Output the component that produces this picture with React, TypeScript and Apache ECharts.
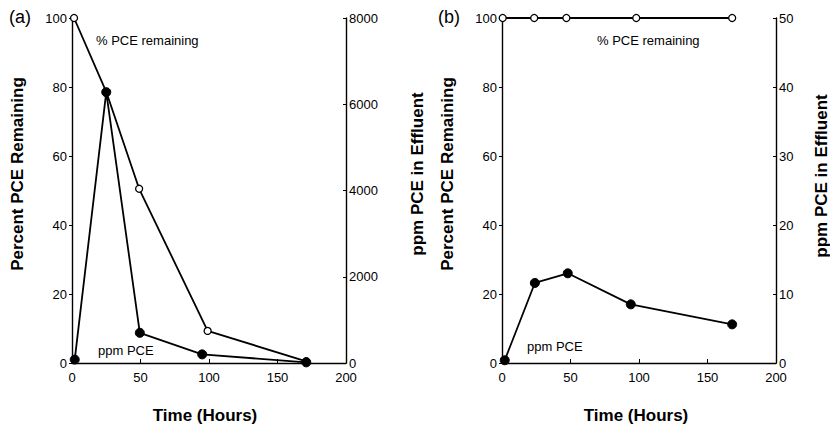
import React, { useEffect, useRef } from "react";
import * as echarts from "echarts";

// Panel (a)
const aPctTime = [1.5, 25, 49, 99, 171];
const aPct = [100, 78.6, 50.5, 9.3, 0.5];
const aPpmTime = [2, 25, 49.5, 95, 171];
const aPpm = [80, 6280, 700, 200, 15];
// Panel (b)
const bPctTime = [0.5, 23.5, 47, 98, 168];
const bPct = [100, 100, 100, 100, 100];
const bPpmTime = [2, 24, 48, 94, 168];
const bPpm = [0.4, 11.6, 13.0, 8.5, 5.6];

const FONT = "Liberation Sans, Arial, Helvetica, sans-serif";

const pairs = (xs: number[], ys: number[]) => xs.map((x, i) => [x, ys[i]]);

export default function App() {
  const ref = useRef<HTMLDivElement>(null);
  useEffect(() => {
    if (!ref.current) return;
    document.body.style.margin = "0";
    const chart = echarts.init(ref.current, undefined, { renderer: "svg" });
    const axisLine = { show: true, lineStyle: { color: "#000", width: 1.4 } };
    const labelStyle = { color: "#000", fontSize: 13, fontFamily: FONT };
    const xAxis = (gi: number) => ({
      type: "value",
      gridIndex: gi,
      min: 0,
      max: 200,
      interval: 50,
      axisLine,
      axisTick: { show: true, inside: true, length: 4, lineStyle: { color: "#000" } },
      axisLabel: { ...labelStyle, margin: 8 },
      splitLine: { show: false },
    });
    const yAxis = (gi: number, pos: "left" | "right", max: number, interval: number) => ({
      type: "value",
      gridIndex: gi,
      position: pos,
      min: 0,
      max,
      interval,
      axisLine,
      axisTick: { show: true, inside: pos === "right", length: 3, lineStyle: { color: "#000" } },
      axisLabel: {
        ...labelStyle,
        margin: pos === "right" ? 3 : 5,
        formatter: (v: number) => String(v),
      },
      splitLine: { show: false },
    });
    const openLine = (data: number[][], xi: number, yi: number) => ({
      type: "line",
      xAxisIndex: xi,
      yAxisIndex: yi,
      data,
      symbol: "circle",
      symbolSize: 7,
      showSymbol: true,
      lineStyle: { color: "#000", width: 1.8 },
      itemStyle: { color: "#fff", borderColor: "#000", borderWidth: 1.3 },
      z: 3,
    });
    const filledLine = (data: number[][], xi: number, yi: number) => ({
      type: "line",
      xAxisIndex: xi,
      yAxisIndex: yi,
      data,
      symbol: "circle",
      symbolSize: 9,
      showSymbol: true,
      lineStyle: { color: "#000", width: 1.8 },
      itemStyle: { color: "#000", borderColor: "#000", borderWidth: 1 },
      z: 4,
    });
    const annot = (text: string, x: number, y: number, size = 13) => ({
      type: "text",
      x,
      y,
      style: { text, fill: "#000", fontSize: size, fontFamily: FONT, textVerticalAlign: "middle" },
    });
    const title = (text: string, x: number, y: number, rotated: boolean) => ({
      type: "text",
      x,
      y,
      rotation: rotated ? Math.PI / 2 : 0,
      style: {
        text,
        fill: "#000",
        fontSize: 17,
        fontWeight: "bold",
        fontFamily: FONT,
        textAlign: "center",
        textVerticalAlign: "middle",
      },
    });
    chart.setOption({
      animation: false,
      backgroundColor: "#fff",
      grid: [
        { left: 72, right: 484, top: 18, bottom: 63 },
        { left: 502, right: 54, top: 18, bottom: 63 },
      ],
      xAxis: [xAxis(0), xAxis(1)],
      yAxis: [
        yAxis(0, "left", 100, 20),
        yAxis(0, "right", 8000, 2000),
        yAxis(1, "left", 100, 20),
        yAxis(1, "right", 50, 10),
      ],
      series: [
        filledLine(pairs(aPpmTime, aPpm), 0, 1),
        openLine(pairs(aPctTime, aPct), 0, 0),
        filledLine(pairs(bPpmTime, bPpm), 1, 3),
        openLine(pairs(bPctTime, bPct), 1, 2),
      ],
      graphic: [
        annot("(a)", 9, 17, 18),
        annot("(b)", 438, 17, 18),
        annot("% PCE remaining", 96, 40),
        annot("ppm PCE", 98, 350),
        annot("% PCE remaining", 597, 40),
        annot("ppm PCE", 527, 346),
        title("Percent PCE Remaining", 17, 174, true),
        title("ppm PCE in Effluent", 417, 174, true),
        title("Percent PCE Remaining", 447, 174, true),
        title("ppm PCE in Effluent", 821, 176, true),
        title("Time (Hours)", 205, 415, false),
        title("Time (Hours)", 636, 415, false),
      ],
    });
    return () => chart.dispose();
  }, []);
  return <div ref={ref} style={{ width: 830, height: 426 }} />;
}
